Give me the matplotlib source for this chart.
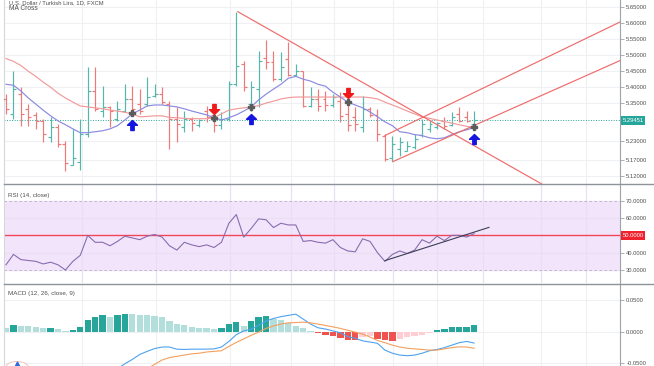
import numpy as np
import matplotlib
matplotlib.use('Agg')
import matplotlib.pyplot as plt
from matplotlib.collections import LineCollection
from matplotlib.path import Path
from matplotlib.lines import Line2D
from matplotlib.patches import Circle
import matplotlib.transforms as mtransforms

plt.rcParams['font.family'] = ['Liberation Sans', 'DejaVu Sans']

# ---------------- price data (daily OHLC) ----------------
opens = [5.362,5.315,5.377,5.331,5.312,5.293,5.243,5.275,5.222,5.156,5.163,5.253,5.387,5.324,5.337,5.299,
         5.324,5.362,5.346,5.346,5.371,5.377,5.346,5.299,5.275,5.299,5.281,5.324,5.312,5.281,5.299,5.408,
         5.471,5.346,5.393,5.492,5.477,5.424,5.486,5.436,5.449,5.340,5.362,5.362,5.343,5.355,5.315,5.306,
         5.275,5.331,5.312,5.247,5.175,5.206,5.200,5.212,5.250,5.268,5.275,5.293,5.281,5.315,5.306,5.284]
highs = [5.377,5.449,5.399,5.346,5.321,5.299,5.306,5.284,5.231,5.268,5.299,5.461,5.461,5.402,5.340,5.355,
         5.408,5.402,5.393,5.430,5.408,5.399,5.355,5.337,5.324,5.306,5.299,5.340,5.321,5.321,5.418,5.635,
         5.480,5.418,5.511,5.548,5.511,5.508,5.542,5.471,5.449,5.399,5.393,5.387,5.377,5.383,5.352,5.337,
         5.371,5.337,5.331,5.253,5.247,5.244,5.231,5.253,5.299,5.293,5.290,5.306,5.321,5.337,5.324,5.324]
lows = [5.315,5.300,5.278,5.278,5.268,5.228,5.228,5.212,5.135,5.153,5.138,5.243,5.324,5.306,5.275,5.293,
        5.321,5.321,5.315,5.340,5.368,5.346,5.206,5.228,5.259,5.262,5.275,5.290,5.259,5.268,5.293,5.402,
        5.387,5.324,5.337,5.455,5.418,5.418,5.433,5.433,5.337,5.337,5.324,5.324,5.337,5.290,5.262,5.262,
        5.259,5.306,5.231,5.166,5.166,5.184,5.197,5.206,5.243,5.259,5.268,5.268,5.278,5.290,5.290,5.268]
closes = [5.331,5.393,5.315,5.306,5.293,5.253,5.275,5.222,5.160,5.175,5.253,5.387,5.331,5.337,5.324,5.331,
          5.362,5.331,5.324,5.368,5.377,5.352,5.299,5.284,5.299,5.287,5.296,5.306,5.281,5.299,5.408,5.464,
          5.399,5.399,5.480,5.477,5.424,5.461,5.436,5.449,5.340,5.362,5.340,5.343,5.368,5.309,5.281,5.284,
          5.331,5.312,5.253,5.172,5.222,5.228,5.215,5.237,5.284,5.284,5.287,5.278,5.306,5.293,5.293,5.2945]

ma_fast = [5.408,5.405,5.387,5.365,5.346,5.327,5.309,5.293,5.281,5.268,5.256,5.256,5.259,5.262,5.268,5.278,
           5.296,5.315,5.327,5.340,5.343,5.343,5.340,5.337,5.331,5.324,5.318,5.312,5.303,5.296,5.303,5.312,
           5.324,5.337,5.359,5.377,5.393,5.408,5.427,5.433,5.424,5.418,5.408,5.402,5.383,5.368,5.352,5.343,
           5.334,5.321,5.306,5.290,5.278,5.259,5.256,5.250,5.247,5.240,5.237,5.240,5.250,5.259,5.265,5.272]
ma_slow = [5.489,5.480,5.467,5.449,5.433,5.415,5.399,5.380,5.365,5.352,5.340,5.337,5.334,5.331,5.327,5.324,
           5.320,5.315,5.306,5.307,5.309,5.309,5.304,5.303,5.301,5.300,5.300,5.300,5.303,5.315,5.327,5.331,
           5.334,5.337,5.341,5.349,5.355,5.362,5.366,5.368,5.368,5.368,5.368,5.368,5.368,5.368,5.368,5.368,
           5.368,5.366,5.362,5.352,5.343,5.334,5.324,5.315,5.306,5.301,5.296,5.291,5.286,5.281,5.276,5.272]

cross_idx = [17, 28, 33, 46, 63]
cross_price = [5.318, 5.303, 5.337, 5.352, 5.275]
cross_dir = ['up', 'down', 'up', 'down', 'up']

last_price = 5.2945
last_label = '5.29451'

# drawn trend lines (bar index, price)
trend_down = [(31.2, 5.636), (60.0, 5.255)]
channel_upper = [(51.0, 5.247), (82.5, 5.602)]
channel_lower = [(52.05, 5.165), (82.5, 5.481)]

price_ticks = [5.65, 5.60, 5.55, 5.50, 5.45, 5.40, 5.35, 5.23, 5.17, 5.12]
price_labels = ['5.65000', '5.60000', '5.55000', '5.50000', '5.45000', '5.40000', '5.35000',
                '5.23000', '5.17000', '5.12000']

# ---------------- RSI ----------------
rsi = [33,39,36,35.5,35,33.5,34.5,33,30,35,38.5,50,46,46,44,46.5,49.5,48.5,47.5,49.5,50.5,49,44,41.5,
       46,44.5,43.5,44.5,43,46,57,62,49,54,59.5,59,54.5,57,56,56,46.5,47,46,45.5,47.5,43,41,40.5,48,46.5,
       40,35,39,41,39.5,41.5,47.5,45.5,49.5,47,50,50,49,51]
rsi_trend = [(51.0, 35.4), (65.0, 54.6)]
rsi_ticks = [70, 60, 40, 30]
rsi_labels = ['70.0000', '60.0000', '40.0000', '30.0000']

# ---------------- MACD ----------------
macd_hist = [0.006,0.0103,0.0088,0.0086,0.0077,0.005,0.006,0.0036,0.001,0.002,
             0.0077,0.019,0.0227,0.026,0.024,0.026,0.028,0.0278,0.027,0.026,
             0.025,0.023,0.0165,0.0124,0.0098,0.0072,0.006,0.0057,0.0046,0.0057,
             0.0129,0.015,0.0088,0.0165,0.0227,0.025,0.020,0.019,0.014,0.0088,
             0.006,0.0005,-0.003,-0.0057,-0.0077,-0.011,-0.0134,-0.0144,-0.0093,-0.0067,
             -0.0119,-0.0144,-0.0146,-0.0119,-0.0093,-0.0067,-0.005,-0.0026,0.002,0.0036,
             0.0068,0.0072,0.0075,0.0098]
macd_start = 15
macd_line = [-0.060,-0.052,-0.045,-0.037,-0.032,-0.0275,-0.025,-0.025,-0.0285,-0.0289,-0.0285,-0.0284,
             -0.0284,-0.028,-0.025,-0.016,-0.005,0.001,0.0036,0.010,0.017,0.021,0.024,0.026,0.028,0.020,
             0.012,0.006,0.004,0.001,-0.002,-0.008,-0.011,-0.015,-0.017,-0.019,-0.030,-0.035,-0.038,-0.039,
             -0.038,-0.035,-0.031,-0.029,-0.026,-0.022,-0.018,-0.016,-0.0186]
signal_start = 19
signal_line = [-0.060,-0.053,-0.046,-0.042,-0.040,-0.038,-0.036,-0.035,-0.033,-0.032,-0.031,-0.024,
               -0.0175,-0.012,-0.006,-0.001,0.005,0.009,0.012,0.014,0.0145,0.015,0.014,0.012,0.0098,
               0.0075,0.005,0.002,-0.001,-0.004,-0.009,-0.0144,-0.018,-0.022,-0.025,-0.027,-0.028,
               -0.029,-0.030,-0.030,-0.028,-0.026,-0.0247,-0.025,-0.027]
macd_ticks = [0.05, 0.0, -0.05]
macd_labels = ['0.0500', '0.0000', '-0.0500']

vgrid = [10.2, 20.2, 30.2, 38.4, 44.1, 52.1, 58.0, 64.2, 72.0, 78.1]

# ---------------- figure ----------------
W, H = 654, 366
fig = plt.figure(figsize=(W / 100, H / 100), dpi=100)
L = 4 / W
AW = 616 / W
ax1 = fig.add_axes([L, 1 - 184 / H, AW, 184 / H])
ax2 = fig.add_axes([L, 1 - 283 / H, AW, 98 / H])
ax3 = fig.add_axes([L, 0, AW, 82 / H])

XL = (-0.27, 82.64)
grid_c = '#eef0f4'
txt_c = '#505050'
for ax in (ax1, ax2, ax3):
    ax.set_xlim(*XL)
    ax.set_xticks([])
    ax.set_facecolor('white')
    for s in ('top', 'bottom'):
        ax.spines[s].set_visible(False)
    ax.spines['left'].set_color('#d6d8de')
    ax.spines['left'].set_linewidth(0.8)
    ax.spines['right'].set_color('#9ea2ab')
    ax.spines['right'].set_linewidth(0.8)
    ax.yaxis.tick_right()
    ax.tick_params(axis='y', length=3, width=0.6, color='#9ea2ab', labelsize=4.2,
                   labelcolor=txt_c, pad=1.5)
    for g in vgrid:
        ax.axvline(g, color=grid_c, lw=0.8, zorder=0)

# ---- main pane ----
ax1.set_ylim(5.0949, 5.6727)
ax1.set_yticks(price_ticks)
ax1.set_yticklabels(price_labels)
for t in price_ticks:
    ax1.axhline(t, color=grid_c, lw=0.8, zorder=0)

o = np.array(opens); h = np.array(highs); lo = np.array(lows); c = np.array(closes)
x = np.arange(len(c))
teal = '#55b7aa'
redc = '#ef7878'
segs, cols = [], []
for i in x:
    col = teal if c[i] >= o[i] else redc
    segs += [[(i, lo[i]), (i, h[i])], [(i - 0.4, o[i]), (i, o[i])], [(i, c[i]), (i + 0.4, c[i])]]
    cols += [col] * 3
ax1.add_collection(LineCollection(segs, colors=cols, linewidths=0.85, zorder=3))

ax1.plot(x, ma_slow, color='#f29a9a', lw=0.85, zorder=4)
ax1.plot(x, ma_fast, color='#8a8ae0', lw=0.85, zorder=4)

# last price line
ax1.axhline(last_price, color='#26a69a', lw=0.7, ls=(0, (1, 1.6)), zorder=2)
bt = mtransforms.blended_transform_factory(ax1.transAxes, ax1.transData)
ax1.text(1.004, last_price, last_label, transform=bt, va='center', ha='left', fontsize=4.2,
         color='white', bbox=dict(boxstyle='square,pad=0.3', fc='#26a69a', ec='none'),
         clip_on=False, zorder=10)

# trend lines
def ray(p0, p1, xend):
    (x0, y0), (x1, y1) = p0, p1
    k = (y1 - y0) / (x1 - x0)
    return [x0, xend], [y0, y0 + k * (xend - x0)]

tl_c = '#ef6b6b'
for p0, p1 in (trend_down, channel_upper, channel_lower):
    xs, ys = ray(p0, p1, XL[1])
    ax1.plot(xs, ys, color=tl_c, lw=0.85, zorder=5)

# cross markers and arrows
up_path = Path([(0, 0.5), (0.5, 0.02), (0.17, 0.02), (0.17, -0.5), (-0.17, -0.5),
                (-0.17, 0.02), (-0.5, 0.02), (0, 0.5)], closed=True)
down_path = Path([(vx, -vy) for vx, vy in up_path.vertices], closed=True)
for i, p, d in zip(cross_idx, cross_price, cross_dir):
    ax1.plot([i], [p], marker='P', ms=4.6, color='#5c5c5c', mec='#5c5c5c', zorder=7)
    if d == 'up':
        tr = mtransforms.offset_copy(ax1.transData, fig=fig, x=0, y=-12, units='dots')
        ax1.plot([i], [p], marker=up_path, ms=7.2, color='#1515e0', transform=tr, zorder=7,
                 clip_on=False)
    else:
        tr = mtransforms.offset_copy(ax1.transData, fig=fig, x=0, y=9, units='dots')
        ax1.plot([i], [p], marker=down_path, ms=7.2, color='#f01818', transform=tr, zorder=7,
                 clip_on=False)

# ---- RSI pane ----
ax2.set_ylim(22.5, 79.06)
ax2.axhspan(30, 70, color='#f2e5fb', zorder=0)
for g in vgrid:
    ax2.axvline(g, color='#e8e0f2', lw=0.8, zorder=0.5)
for t in (60, 40):
    ax2.axhline(t, color='#e8e0f2', lw=0.8, zorder=0.5)
for t in (70, 30):
    ax2.axhline(t, color='#b4b0c0', lw=0.6, ls=(0, (3, 3)), zorder=1)
ax2.axhline(50, color='#f2455a', lw=1.0, zorder=2)
ax2.plot(x, rsi, color='#8a6cae', lw=0.8, zorder=3)
ax2.plot([p[0] for p in rsi_trend], [p[1] for p in rsi_trend], color='#3d3d58', lw=0.8, zorder=4)
ax2.set_yticks(rsi_ticks + [50])
ax2.set_yticklabels(rsi_labels + [''])
bt2 = mtransforms.blended_transform_factory(ax2.transAxes, ax2.transData)
ax2.text(1.004, 50, '50.0000', transform=bt2, va='center', ha='left', fontsize=4.2,
         color='white', bbox=dict(boxstyle='square,pad=0.3', fc='#f0222e', ec='none'),
         clip_on=False, zorder=10)

# ---- MACD pane ----
ax3.set_ylim(-0.0556, 0.0766)
for t in macd_ticks:
    ax3.axhline(t, color=grid_c, lw=0.8, zorder=0)
hist = np.array(macd_hist)
hcols = []
for i, v in enumerate(hist):
    prev = hist[i - 1] if i > 0 else v
    if v >= 0:
        hcols.append('#26a69a' if v > prev else '#b2dfdb')
    else:
        hcols.append('#ef5350' if v < prev else '#ffcdd2')
ax3.bar(x, hist, width=0.85, color=hcols, zorder=2)
ax3.plot(np.arange(macd_start, macd_start + len(macd_line)), macd_line, color='#4da3ef', lw=0.8, zorder=3)
ax3.plot(np.arange(signal_start, signal_start + len(signal_line)), signal_line, color='#f3a05e', lw=0.8, zorder=3)
ax3.set_yticks(macd_ticks)
ax3.set_yticklabels(macd_labels)

# small scroll button at bottom-left (mostly hidden)
btn_tr = mtransforms.offset_copy(fig.transFigure, fig=fig, x=0, y=0, units='dots')
fig.add_artist(Circle((17 / W, -2 / H), 6.5 / H, transform=fig.transFigure, fc='white',
                      ec='#f4c8c8', lw=0.8))
fig.add_artist(Line2D([17 / W], [2 / H], marker='^', ms=3.5, color='#2b6fd6', transform=fig.transFigure))

# ---- pane separators ----
for yy in (184.5, 283.5):
    fig.add_artist(Line2D([L, 1], [1 - yy / H] * 2, color='#8e929b', lw=1.0))

# ---- texts ----
fig.text(9 / W, 1 - 0.3 / H, 'U.S. Dollar / Turkish Lira, 1D, FXCM', fontsize=4.2, color=txt_c, va='top')
fig.text(9 / W, 1 - 8 / H, 'MA Cross', fontsize=4.8, color=txt_c, va='center')
fig.text(8.5 / W, 1 - 195.7 / H, 'RSI (14, close)', fontsize=4.5, color=txt_c, va='center')
fig.text(8.5 / W, 1 - 293.3 / H, 'MACD (12, 26, close, 9)', fontsize=4.5, color=txt_c, va='center')

fig.savefig('out.png', dpi=100)
